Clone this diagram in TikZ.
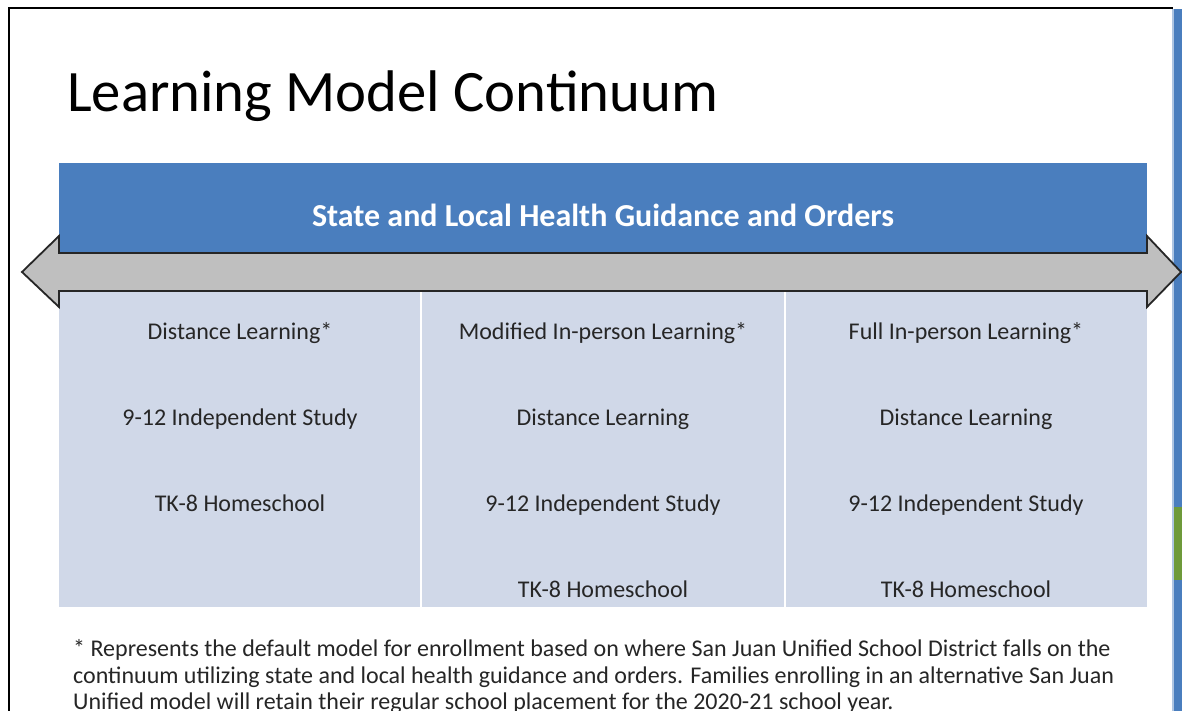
\documentclass[tikz,border=0pt]{standalone}
\usepackage{fontspec}
\setmainfont{Carlito}
\begin{document}
\begin{tikzpicture}[x=1pt,y=-1pt,
  coltext/.style={font=\fontsize{24}{28}\selectfont, text=black!85, anchor=base, inner sep=0pt},
  foottext/.style={font=\fontsize{24}{28}\selectfont, text=black!85, anchor=base west, inner sep=0pt},
]
\definecolor{hdrblue}{HTML}{4A7EBE}
\definecolor{bodyblue}{HTML}{D0D8E8}
\definecolor{arrgray}{HTML}{BFBFBF}
\definecolor{barblue}{HTML}{4A7EBE}
\definecolor{bargreen}{HTML}{6E9A3A}
\useasboundingbox (0,0) rectangle (1182,711);
\fill[white] (0,0) rectangle (1182,711);
% page frame
\draw[line width=2.2pt, black] (9,711) -- (9,8) -- (1173,8);
\fill[barblue] (1172,9) rectangle (1182,711);
\fill[bargreen] (1172,507) rectangle (1182,580);
\fill[barblue!45] (1172,9) rectangle (1173.5,711);
% title
\node[anchor=base west, inner sep=0pt, font=\fontsize{58.7}{62}\selectfont] (title) at (67,112) {Learning Model Continuum};
% header box
\fill[hdrblue] (59,163) rectangle (1147,252);
\node[anchor=base, font=\bfseries\fontsize{32}{34}\selectfont, text=white, inner sep=0pt] (hdr) at (603,226) {State and Local Health Guidance and Orders};
% body
\fill[bodyblue] (59,291) rectangle (1147,607);
\draw[white, line width=1.5pt] (421,292) -- (421,607);
\draw[white, line width=1.5pt] (785,292) -- (785,607);
% double arrow
\draw[line width=1.8pt, draw=black!85, fill=arrgray, line join=miter]
  (22,272) -- (59,236) -- (59,253) -- (1147,253) -- (1147,236) -- (1181,272)
  -- (1147,307) -- (1147,291) -- (59,291) -- (59,307) -- cycle;
% column 1
\node[coltext] (c1a) at (240,339) {Distance Learning*};
\node[coltext] (c1b) at (240,425) {9-12 Independent Study};
\node[coltext] (c1c) at (240,511) {TK-8 Homeschool};
% column 2
\node[coltext] (c2a) at (603,339) {Modified In-person Learning*};
\node[coltext] (c2b) at (603,425) {Distance Learning};
\node[coltext] (c2c) at (603,511) {9-12 Independent Study};
\node[coltext] (c2d) at (603,597) {TK-8 Homeschool};
% column 3
\node[coltext] (c3a) at (966,339) {Full In-person Learning*};
\node[coltext] (c3b) at (966,425) {Distance Learning};
\node[coltext] (c3c) at (966,511) {9-12 Independent Study};
\node[coltext] (c3d) at (966,597) {TK-8 Homeschool};
% footnote
\node[foottext] (foot1) at (73,656) {* Represents the default model for enrollment based on where San Juan Unified School District falls on the};
\node[foottext] (foot2) at (73,683) {continuum utilizing state and local health guidance and orders. Families enrolling in an alternative San Juan};
\node[foottext] (foot3) at (73,709) {Unified model will retain their regular school placement for the 2020-21 school year.};
\end{tikzpicture}
\end{document}
